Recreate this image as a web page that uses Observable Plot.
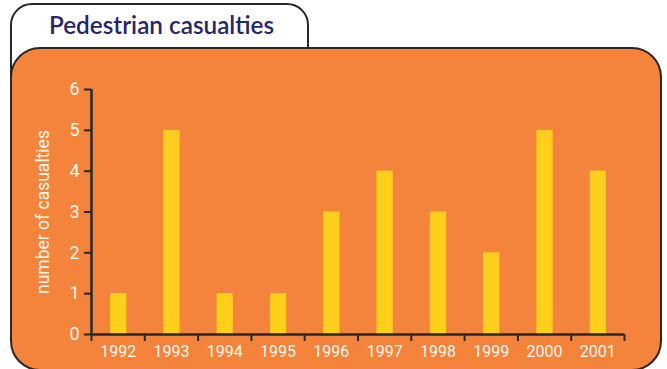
<!DOCTYPE html>
<html>
<head>
<meta charset="utf-8">
<script src="https://cdn.jsdelivr.net/npm/d3@7"></script>
<script src="https://cdn.jsdelivr.net/npm/@observablehq/plot@0.6"></script>
<style>
  html, body { margin: 0; padding: 0; background: #ffffff; width: 667px; height: 369px; overflow: hidden; }
  #wrap { position: relative; width: 667px; height: 369px; }
  #tab {
    position: absolute; left: 10px; top: 3px; width: 299px; height: 90px;
    box-sizing: border-box; border: 2.5px solid #2a2728; border-radius: 22px 22px 0 0;
    background: #ffffff;
  }
  #title {
    position: absolute; left: 12px; top: 10px; width: 299px; text-align: center;
    font-family: Lato, "Open Sans", sans-serif; font-weight: 600; font-size: 24.3px;
    color: #2b2466;
  }
  #panel {
    position: absolute; left: 10px; top: 47px; width: 652px; height: 324px;
    box-sizing: border-box; border: 2.5px solid #2a2728; border-radius: 30px;
    background: #f4833b;
  }
  #chart { position: absolute; left: 0; top: 0; }
</style>
</head>
<body>
<div id="wrap">
  <div id="tab"></div>
  <div id="title">Pedestrian casualties</div>
  <div id="panel"></div>
  <div id="chart"></div>
</div>
<script>
const years = [1992, 1993, 1994, 1995, 1996, 1997, 1998, 1999, 2000, 2001];
const casualties = [1, 5, 1, 1, 3, 4, 3, 2, 5, 4];
const yTicks = [0, 1, 2, 3, 4, 5, 6];
const yLabel = "number of casualties";

const data = years.map((y, i) => ({year: y, value: casualties[i]}));
const boundaries = years.map(y => y - 0.5).concat([years[years.length - 1] + 0.5]);

const axisColor = "#2a2728";
const textColor = "#fff6ee";
const barColor = "#fdcf1c";
const font = "Roboto, 'Open Sans', sans-serif";

const chart = Plot.plot({
  width: 667,
  height: 369,
  marginLeft: 91,
  marginRight: 43,
  marginTop: 89,
  marginBottom: 35,
  style: {background: "transparent", fontFamily: font, overflow: "visible"},
  x: {domain: [years[0] - 0.5, years[years.length - 1] + 0.5]},
  y: {domain: [0, 6]},
  marks: [
    Plot.rectY(data, {
      x1: d => d.year - 0.5, x2: d => d.year + 0.5, y: "value",
      fill: barColor, insetLeft: 19, insetRight: 18
    }),
    Plot.axisY({
      ticks: yTicks, tickSize: 7, tickPadding: 5, stroke: axisColor, strokeWidth: 2,
      color: textColor, fontSize: 18, tickFormat: d => String(d),
      label: null
    }),
    Plot.text([yLabel], {
      text: d => d, frameAnchor: "left", textAnchor: "middle", rotate: -90, dx: -48,
      fill: textColor, fontSize: 17.5, fontFamily: font
    }),
    Plot.axisX({
      ticks: boundaries, tickSize: 7, stroke: axisColor, strokeWidth: 2,
      tickFormat: () => "", label: null
    }),
    Plot.axisX({
      ticks: years, tickSize: 0, tickPadding: 11, color: textColor, fontSize: 16,
      tickFormat: d => String(d), label: null
    }),
    Plot.ruleY([0], {stroke: axisColor, strokeWidth: 2.5}),
    Plot.ruleX([years[0] - 0.5], {stroke: axisColor, strokeWidth: 2.5})
  ]
});
document.getElementById("chart").appendChild(chart);
</script>
</body>
</html>
